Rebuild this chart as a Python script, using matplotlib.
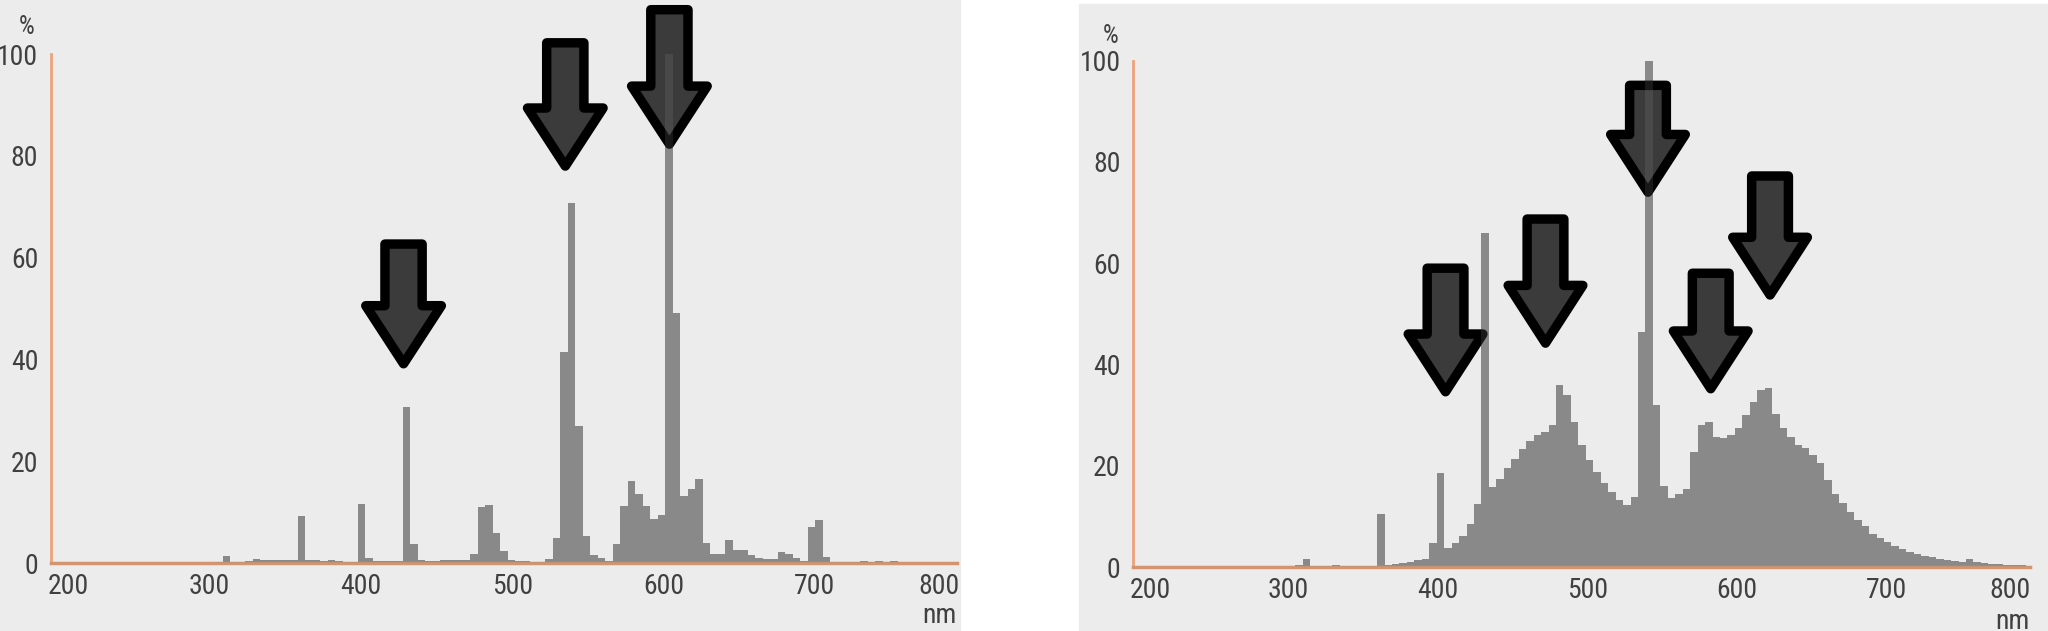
import numpy as np
import matplotlib
matplotlib.use("Agg")
import matplotlib.pyplot as plt
from matplotlib.patches import Rectangle, Polygon
from matplotlib import font_manager

# ---------------- data ----------------
X_TICK_LABELS = ["200", "300", "400", "500", "600", "700", "800"]
# where the printed labels sit on each wavelength axis (end labels pushed inward)
LEFT_TICK_POS = [206.6, 300, 400, 500, 600, 700, 782.0]
RIGHT_TICK_POS = [207.5, 300, 400, 500, 600, 700, 783.0]
Y_TICKS = [0, 20, 40, 60, 80, 100]

LEFT_BIN_NM = 4.96
LEFT_START_NM = 303.6
LEFT_VALUES = [
    0.2, 1.4, 0.2, 0.3, 0.4, 0.8, 0.6, 0.6, 0.6, 0.6,
    0.6, 9.3, 0.6, 0.6, 0.5, 0.6, 0.4, 0.3, 0.3, 11.7,
    1.0, 0.4, 0.4, 0.4, 0.5, 30.7, 3.8, 0.6, 0.5, 0.5,
    0.6, 0.6, 0.6, 0.7, 1.8, 11.0, 11.4, 6.0, 2.5, 0.6,
    0.5, 0.4, 0.3, 0.3, 0.8, 5.0, 41.5, 70.8, 26.9, 5.4,
    1.6, 1.0, 0.5, 3.9, 11.3, 16.1, 13.7, 11.3, 8.7, 9.5,
    100.0, 49.2, 13.3, 14.7, 16.5, 4.1, 1.8, 1.8, 4.6, 2.6,
    2.6, 1.6, 1.0, 0.8, 0.8, 2.3, 1.8, 1.0, 0.5, 7.2,
    8.5, 1.3, 0.3, 0.3, 0.3, 0.3, 0.5, 0.3, 0.5, 0.3,
    0.5,
]

RIGHT_BIN_NM = 4.99
RIGHT_START_NM = 299.3
RIGHT_VALUES = [
    0.1, 0.3, 1.5, 0.2, 0.2, 0.2, 0.4, 0.2, 0.2, 0.2,
    0.2, 0.2, 10.5, 0.3, 0.5, 0.7, 1.0, 1.3, 1.6, 4.7,
    18.6, 3.7, 4.7, 6.2, 8.4, 12.4, 66.0, 15.7, 17.4, 19.5,
    21.3, 23.3, 24.8, 26.0, 26.7, 28.0, 35.9, 34.0, 28.7, 24.1,
    21.1, 18.8, 16.5, 14.9, 13.2, 12.2, 13.9, 46.4, 100.0, 32.0,
    15.9, 13.6, 14.5, 15.5, 22.8, 28.0, 28.7, 25.7, 25.4, 26.1,
    27.4, 30.0, 32.6, 34.9, 35.3, 30.3, 27.4, 25.7, 24.1, 23.4,
    22.1, 20.5, 17.2, 14.5, 12.6, 10.9, 9.3, 8.0, 6.6, 5.7,
    4.9, 4.1, 3.5, 3.0, 2.6, 2.2, 1.9, 1.6, 1.4, 1.25,
    1.05, 1.5, 0.9, 0.7, 0.6, 0.5, 0.4, 0.35, 0.3, 0.25,
]

# arrows: (tip wavelength nm, tip %, top of shaft %)
LEFT_ARROWS = [(428.2, 39.2, 62.7), (535.1, 78.0, 102.2), (603.9, 82.3, 108.7)]
RIGHT_ARROWS = [(405.0, 34.6, 59.0), (471.9, 44.2, 68.7), (540.5, 74.0, 95.1),
                (582.5, 35.2, 58.0), (622.2, 53.7, 77.2)]

# ---------------- style ----------------
available = {f.name for f in font_manager.fontManager.ttflist}
FONT = next(f for f in ["Roboto Condensed", "Liberation Sans Narrow", "Roboto",
                        "Liberation Sans", "DejaVu Sans"] if f in available)
plt.rcParams["font.family"] = [FONT, "DejaVu Sans"]

BG = "#ececec"
BAR = "#898989"
AXIS_BOTTOM = "#d39470"
AXIS_LEFT = "#eca37a"
TEXT = "#404040"
ARROW_FILL = "#3b3b3b"
SHAFT_W = 24.6
HEAD_W = 50.0
HEAD_L = 11.4
FS = 20

W, H = 2048, 631
fig = plt.figure(figsize=(W / 100, H / 100), dpi=100)
fig.patches.append(Rectangle((0, 0), 960 / W, 1, transform=fig.transFigure,
                             color=BG, zorder=-5))
fig.patches.append(Rectangle((1078.5 / W, 0), (W - 1078.5) / W, (H - 4) / H,
                             transform=fig.transFigure, color=BG, zorder=-5))

ax_l = fig.add_axes([0.02476, 0.1070, 0.44254, 0.8074])
ax_r = fig.add_axes([0.5533, 0.1014, 0.43776, 0.8027])


def draw_panel(ax, start, binw, values, arrows, xlim, tickpos):
    x = start + binw * np.arange(len(values))
    ax.bar(x, values, width=binw, align="edge", color=BAR, linewidth=0, zorder=1)
    for tx, ty, top in arrows:
        base = ty + HEAD_L
        verts = [(tx - SHAFT_W / 2, top), (tx + SHAFT_W / 2, top),
                 (tx + SHAFT_W / 2, base), (tx + HEAD_W / 2, base), (tx, ty),
                 (tx - HEAD_W / 2, base), (tx - SHAFT_W / 2, base)]
        ax.add_patch(Polygon(verts, closed=True, facecolor=ARROW_FILL,
                             edgecolor="black", linewidth=6.8, joinstyle="round",
                             zorder=4, clip_on=False))
    # faint see-through of the bars over the arrows
    ax.bar(x, values, width=binw, align="edge", color=BAR, linewidth=0,
           alpha=0.18, zorder=5)
    ax.set_facecolor("none")
    ax.set_xlim(*xlim)
    ax.set_ylim(0, 100)
    ax.set_xticks(tickpos)
    ax.set_xticklabels(X_TICK_LABELS)
    ax.set_yticks(Y_TICKS)
    for s in ("top", "right"):
        ax.spines[s].set_visible(False)
    ax.spines["bottom"].set_color(AXIS_BOTTOM)
    ax.spines["bottom"].set_linewidth(2.5)
    ax.spines["left"].set_color(AXIS_LEFT)
    ax.spines["left"].set_linewidth(2.0)
    ax.tick_params(length=0, labelsize=FS, colors=TEXT)
    ax.tick_params(axis="x", pad=7)
    ax.tick_params(axis="y", pad=9)


draw_panel(ax_l, LEFT_START_NM, LEFT_BIN_NM, LEFT_VALUES, LEFT_ARROWS,
           (195.0, 794.0), LEFT_TICK_POS)
draw_panel(ax_r, RIGHT_START_NM, RIGHT_BIN_NM, RIGHT_VALUES, RIGHT_ARROWS,
           (195.9, 796.0), RIGHT_TICK_POS)

fig.text(27 / W, 1 - 27 / H, "%", ha="center", va="center", fontsize=18, color=TEXT)
fig.text(1110.5 / W, 1 - 36 / H, "%", ha="center", va="center", fontsize=18, color=TEXT)
fig.text(956.7 / W, 1 - 615.5 / H, "nm", ha="right", va="center", fontsize=FS, color=TEXT)
fig.text(2030 / W, 1 - 621.5 / H, "nm", ha="right", va="center", fontsize=FS, color=TEXT)

fig.savefig("out.png", dpi=100, facecolor="white")
